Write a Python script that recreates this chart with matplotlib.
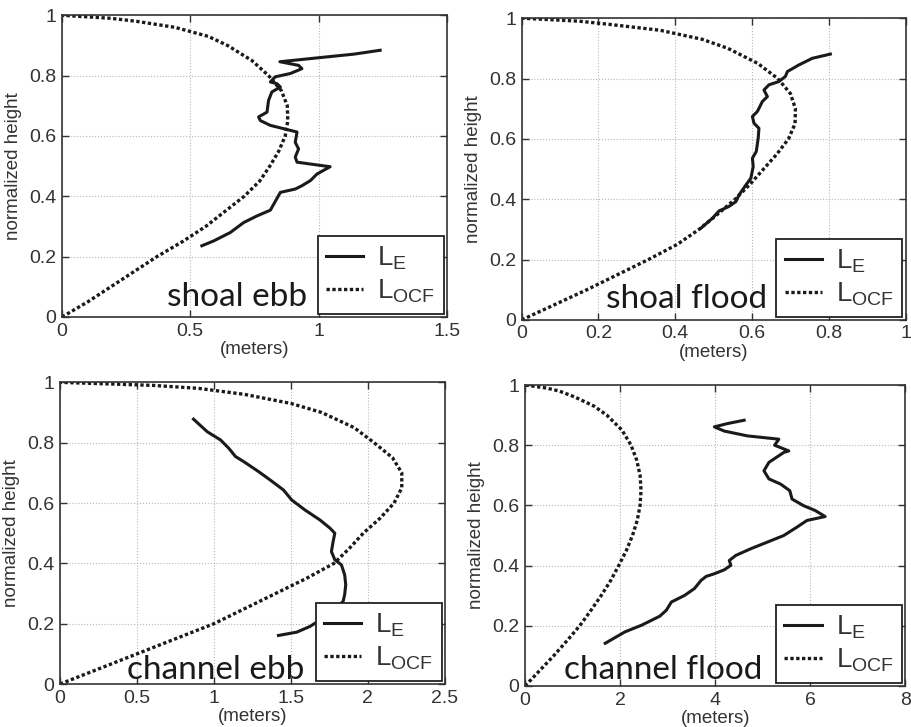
import matplotlib
matplotlib.use("Agg")
import matplotlib.pyplot as plt

plt.rcParams['font.family'] = ['Liberation Sans', 'DejaVu Sans']
plt.rcParams['mathtext.default'] = 'regular'

# heights used for the L_OCF curves
z_ocf = [0, 0.05, 0.1, 0.15, 0.2, 0.25, 0.3, 0.35, 0.4, 0.45, 0.5, 0.55, 0.6,
         0.65, 0.7, 0.75, 0.8, 0.85, 0.9, 0.93, 0.96, 0.98, 0.99, 1.0]

ocf_shoal_ebb = [0, 0.10, 0.19, 0.28, 0.37, 0.47, 0.56, 0.635, 0.71, 0.77, 0.81, 0.845,
                 0.87, 0.88, 0.878, 0.855, 0.805, 0.74, 0.645, 0.57, 0.44, 0.29, 0.19, 0]
ocf_shoal_flood = [0, 0.085, 0.17, 0.25, 0.33, 0.405, 0.462, 0.51, 0.556, 0.595, 0.63, 0.665,
                   0.695, 0.712, 0.713, 0.70, 0.667, 0.615, 0.537, 0.47, 0.36, 0.225, 0.15, 0]
ocf_channel_ebb = [0, 0.25, 0.50, 0.75, 1.0, 1.20, 1.40, 1.60, 1.78, 1.88, 1.97, 2.08,
                   2.17, 2.22, 2.22, 2.16, 2.04, 1.91, 1.70, 1.50, 1.20, 0.90, 0.60, 0]
ocf_channel_flood = [0, 0.30, 0.60, 0.88, 1.15, 1.38, 1.60, 1.80, 1.97, 2.13, 2.26, 2.36,
                     2.42, 2.44, 2.42, 2.35, 2.23, 2.04, 1.72, 1.45, 1.05, 0.72, 0.45, 0]

# measured L_E profiles
le_shoal_ebb_x = [0.545, 0.591, 0.656, 0.708, 0.760, 0.812, 0.851, 0.909, 0.935, 0.968, 0.994,
                  1.045, 0.916, 0.909, 0.922, 0.909, 0.916, 0.812, 0.773, 0.766, 0.799, 0.805,
                  0.818, 0.851, 0.838, 0.812, 0.831, 0.890, 0.935, 0.922, 0.849, 1.032, 1.136, 1.240]
le_shoal_ebb_z = [0.236, 0.252, 0.280, 0.313, 0.335, 0.354, 0.413, 0.424, 0.435, 0.452, 0.474,
                  0.498, 0.513, 0.530, 0.557, 0.579, 0.613, 0.635, 0.651, 0.663, 0.679, 0.718,
                  0.746, 0.762, 0.773, 0.779, 0.796, 0.807, 0.823, 0.834, 0.846, 0.862, 0.871, 0.884]

le_shoal_flood_x = [0.467, 0.497, 0.514, 0.540, 0.558, 0.566, 0.584, 0.597, 0.603, 0.601, 0.611,
                    0.616, 0.618, 0.605, 0.601, 0.614, 0.627, 0.640, 0.631, 0.644, 0.670, 0.687,
                    0.692, 0.722, 0.757, 0.804]
le_shoal_flood_z = [0.304, 0.337, 0.361, 0.376, 0.392, 0.414, 0.447, 0.470, 0.508, 0.536, 0.558,
                    0.602, 0.635, 0.652, 0.674, 0.691, 0.724, 0.740, 0.762, 0.779, 0.790, 0.807,
                    0.823, 0.845, 0.867, 0.881]

le_channel_ebb_x = [0.867, 0.957, 1.043, 1.097, 1.140, 1.194, 1.290, 1.366, 1.452, 1.505, 1.591,
                    1.688, 1.753, 1.785, 1.774, 1.763, 1.785, 1.828, 1.849, 1.856, 1.849, 1.839,
                    1.796, 1.710, 1.624, 1.538, 1.419]
le_channel_ebb_z = [0.878, 0.836, 0.809, 0.781, 0.754, 0.737, 0.704, 0.676, 0.643, 0.610, 0.577,
                    0.544, 0.517, 0.500, 0.472, 0.439, 0.412, 0.395, 0.362, 0.329, 0.296, 0.274,
                    0.252, 0.219, 0.191, 0.172, 0.161]

le_channel_flood_x = [1.687, 2.104, 2.452, 2.835, 2.974, 3.078, 3.357, 3.565, 3.704, 3.809, 3.983,
                      4.191, 4.330, 4.296, 4.435, 4.748, 5.096, 5.443, 5.722, 5.930, 6.313, 6.104,
                      5.861, 5.617, 5.569, 5.374, 5.130, 5.026, 5.130, 5.443, 5.548, 5.25, 5.339,
                      4.678, 4.191, 3.983, 4.261, 4.609]
le_channel_flood_z = [0.142, 0.180, 0.202, 0.232, 0.252, 0.279, 0.301, 0.324, 0.351, 0.364, 0.373,
                      0.386, 0.401, 0.417, 0.434, 0.456, 0.478, 0.500, 0.528, 0.550, 0.563, 0.583,
                      0.599, 0.621, 0.649, 0.671, 0.688, 0.715, 0.743, 0.776, 0.781, 0.800, 0.820,
                      0.831, 0.847, 0.861, 0.872, 0.883]

y_ticks = [0, 0.2, 0.4, 0.6, 0.8, 1]
y_ticklabels = ['0', '0.2', '0.4', '0.6', '0.8', '1']

panels = [
    # title, ocf, le x, le z, xlim, xticks, xticklabels, axes rect, text x, text y
    ("shoal ebb", ocf_shoal_ebb, le_shoal_ebb_x, le_shoal_ebb_z, 1.5,
     [0, 0.5, 1, 1.5], ['0', '0.5', '1', '1.5'], [0.068, 0.564, 0.422, 0.415], 0.636, 0.035),
    ("shoal flood", ocf_shoal_flood, le_shoal_flood_x, le_shoal_flood_z, 1.0,
     [0, 0.2, 0.4, 0.6, 0.8, 1], ['0', '0.2', '0.4', '0.6', '0.8', '1'],
     [0.572, 0.560, 0.421, 0.415], 0.64, 0.04),
    ("channel ebb", ocf_channel_ebb, le_channel_ebb_x, le_channel_ebb_z, 2.5,
     [0, 0.5, 1, 1.5, 2, 2.5], ['0', '0.5', '1', '1.5', '2', '2.5'],
     [0.0658, 0.0591, 0.422, 0.415], 0.636, 0.017),
    ("channel flood", ocf_channel_flood, le_channel_flood_x, le_channel_flood_z, 8,
     [0, 2, 4, 6, 8], ['0', '2', '4', '6', '8'], [0.5757, 0.0564, 0.417, 0.414], 0.625, 0.023),
]

ink = '#1a1a1a'
fig = plt.figure(figsize=(9.12, 7.27), dpi=100)

for title, ocf, lex, lez, xmax, xt, xtl, rect, tx, ty in panels:
    ax = fig.add_axes(rect)
    ax.plot(lex, lez, color=ink, lw=2.2, label='$L_E$')
    ax.plot(ocf, z_ocf, color=ink, lw=2.4, linestyle=(0, (1, 0.75)), label='$L_{OCF}$')
    ax.set_xlim(0, xmax)
    ax.set_ylim(0, 1)
    ax.set_xticks(xt)
    ax.set_xticklabels(xtl)
    ax.set_yticks(y_ticks)
    ax.set_yticklabels(y_ticklabels)
    ax.tick_params(direction='in', top=True, right=True, length=5, width=1,
                   labelsize=14, colors='#333333', pad=4)
    ax.grid(True, linestyle=':', color='#b8b8b8', lw=0.8)
    for s in ax.spines.values():
        s.set_color('#333333')
        s.set_linewidth(1.2)
    ax.set_xlabel('(meters)', fontsize=13.5, color='#333333', labelpad=1)
    ax.set_ylabel('normalized height', fontsize=13.5, color='#333333', labelpad=5)
    leg = ax.legend(loc='lower right', fontsize=20, handlelength=1.35, handletextpad=0.5,
                    borderpad=0.3, labelspacing=0.2, fancybox=False, framealpha=1,
                    borderaxespad=0.12)
    leg.get_frame().set_edgecolor('#222222')
    leg.get_frame().set_linewidth(1.3)
    for t in leg.get_texts():
        t.set_color('#333333')
    ax.text(tx, ty, title, transform=ax.transAxes, ha='right', va='baseline',
            fontsize=24, family='Lato', color=ink)

fig.savefig('out.png', dpi=100)
